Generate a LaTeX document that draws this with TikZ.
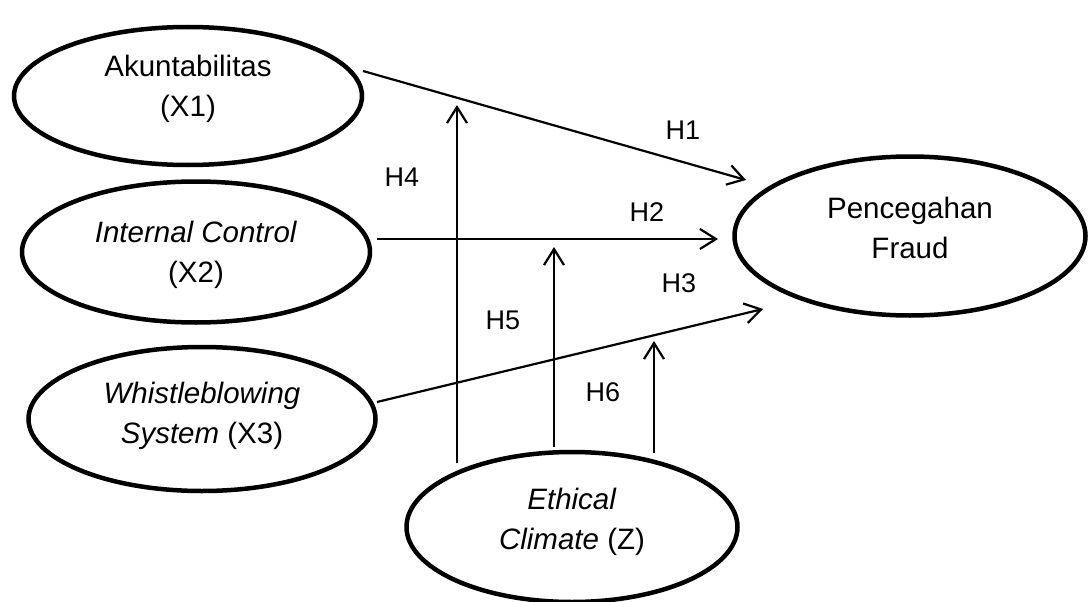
\documentclass[tikz,border=0pt]{standalone}
\usepackage{fontspec}
\setmainfont{Liberation Sans}
\usetikzlibrary{arrows.meta,shapes.geometric}
\begin{document}
\begin{tikzpicture}[x=1pt,y=-1pt,
  var/.style={draw, line width=4.5pt, ellipse, inner sep=0pt},
  vtext/.style={align=center, font=\fontsize{29.5}{40}\selectfont, inner sep=0pt},
  hyp/.style={font=\fontsize{27}{30}\selectfont, inner sep=0pt},
  arr/.style={line width=2.2pt, -{Straight Barb[length=16pt,width=20pt,line width=2.2pt]}}]
\useasboundingbox (0,0) rectangle (1090,602);
% variables
\node[var, minimum width=348pt, minimum height=138pt,
  label={[vtext, name=At, yshift=7pt]center:Akuntabilitas\\(X1)}] (A) at (188,96) {};
\node[var, minimum width=348pt, minimum height=141pt,
  label={[vtext, name=Bt, yshift=-3pt]center:\textit{Internal Control}\\(X2)}] (B) at (196,252) {};
\node[var, minimum width=347pt, minimum height=144pt,
  label={[vtext, name=Ct, yshift=3pt]center:\textit{Whistleblowing}\\\textit{System} (X3)}] (C) at (202,419) {};
\node[var, minimum width=351pt, minimum height=159pt,
  label={[vtext, name=Pt, yshift=8pt]center:Pencegahan\\Fraud}] (P) at (910,236) {};
\node[var, minimum width=331pt, minimum height=150pt,
  label={[vtext, name=Et, yshift=5pt]center:\textit{Ethical}\\\textit{Climate} (Z)}] (E) at (572,527) {};
% connector ends
\coordinate (h1s) at (363,71);  \coordinate (h1e) at (746,180);
\coordinate (h2s) at (377,239); \coordinate (h2e) at (718,239);
\coordinate (h3s) at (377,402); \coordinate (h3e) at (763,309);
\coordinate (h4s) at (457,463); \coordinate (h4e) at (457,105);
\coordinate (h5s) at (554,447); \coordinate (h5e) at (554,247);
\coordinate (h6s) at (654,453); \coordinate (h6e) at (654,341);
% connectors
\draw[arr] (h1s) -- (h1e);
\draw[arr] (h2s) -- (h2e);
\draw[arr] (h3s) -- (h3e);
\draw[arr] (h4s) -- (h4e);
\draw[arr] (h5s) -- (h5e);
\draw[arr] (h6s) -- (h6e);
% labels
\node[hyp] (l1) at (683,130) {H1};
\node[hyp] (l2) at (647,212) {H2};
\node[hyp] (l3) at (679,283) {H3};
\node[hyp] (l4) at (402,177) {H4};
\node[hyp] (l5) at (503,320) {H5};
\node[hyp] (l6) at (603,392) {H6};
\end{tikzpicture}
\end{document}
